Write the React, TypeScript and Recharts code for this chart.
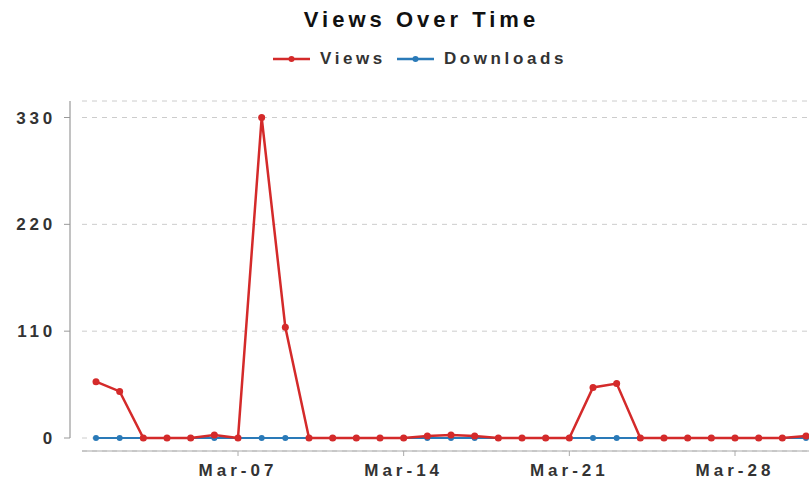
import { LineChart, Line, XAxis, YAxis, CartesianGrid, Legend, ReferenceLine } from 'recharts'

const dates = [
  'Mar-01', 'Mar-02', 'Mar-03', 'Mar-04', 'Mar-05', 'Mar-06', 'Mar-07', 'Mar-08',
  'Mar-09', 'Mar-10', 'Mar-11', 'Mar-12', 'Mar-13', 'Mar-14', 'Mar-15', 'Mar-16',
  'Mar-17', 'Mar-18', 'Mar-19', 'Mar-20', 'Mar-21', 'Mar-22', 'Mar-23', 'Mar-24',
  'Mar-25', 'Mar-26', 'Mar-27', 'Mar-28', 'Mar-29', 'Mar-30', 'Mar-31',
]
const views = [
  58, 48, 0, 0, 0, 3, 0, 330, 114, 0, 0, 0, 0, 0, 2, 3,
  2, 0, 0, 0, 0, 52, 56, 0, 0, 0, 0, 0, 0, 0, 2,
]
const downloads = [
  0, 0, 0, 0, 0, 0, 0, 0, 0, 0, 0, 0, 0, 0, 0, 0,
  0, 0, 0, 0, 0, 0, 0, 0, 0, 0, 0, 0, 0, 0, 0,
]
const xTicks = ['Mar-07', 'Mar-14', 'Mar-21', 'Mar-28']
const yTicks = [0, 110, 220, 330]
const yMax = 347

const RED = '#d42a2a'
const BLUE = '#2a7ab8'
const FONT = '"Liberation Sans", Arial, sans-serif'

const data = dates.map((date, i) => ({ date, Views: views[i], Downloads: downloads[i] }))

const legendOrder = [
  { name: 'Views', color: RED },
  { name: 'Downloads', color: BLUE },
]

function LegendContent() {
  return (
    <div style={{ display: 'flex', justifyContent: 'center', alignItems: 'center', height: 24, paddingLeft: 42 }}>
      {legendOrder.map(s => (
        <div key={s.name} style={{ display: 'flex', alignItems: 'center', marginRight: 11 }}>
          <svg width={37} height={10} style={{ marginRight: 10 }}>
            <line x1={0} y1={5} x2={37} y2={5} stroke={s.color} strokeWidth={2.5} />
            <circle cx={18.5} cy={5} r={3} fill={s.color} />
          </svg>
          <span style={{ fontFamily: FONT, fontWeight: 700, fontSize: 17, letterSpacing: 3.6, color: '#333' }}>
            {s.name}
          </span>
        </div>
      ))}
    </div>
  )
}

function YTick(props: any) {
  const { x, y, payload } = props
  return (
    <g>
      <line x1={x - 18} y1={y} x2={x - 12} y2={y} stroke="#999" strokeWidth={1} />
      <text
        x={x - 26}
        y={y}
        dy={6}
        textAnchor="end"
        fill="#333"
        style={{ fontFamily: FONT, fontWeight: 700, fontSize: 17, letterSpacing: 3.8 }}
      >
        {payload.value}
      </text>
    </g>
  )
}

function YAxisLine(props: any) {
  const { x1, y1, y2 } = props
  return <line x1={x1 - 26} y1={y1} x2={x1 - 26} y2={y2} stroke="#999" strokeWidth={1.2} />
}

export default function App() {
  return (
    <div style={{ position: 'absolute', left: 0, top: 0, width: 809, height: 483, background: '#fff' }}>
      <div
        style={{
          position: 'absolute',
          top: 7,
          left: 0,
          width: 809,
          textAlign: 'center',
          fontFamily: FONT,
          fontWeight: 700,
          fontSize: 22,
          lineHeight: '26px',
          letterSpacing: 4,
          color: '#111',
          paddingLeft: 34,
          boxSizing: 'border-box',
        }}
      >
        Views Over Time
      </div>
      <LineChart width={809} height={483} data={data} margin={{ top: 77, right: 0, bottom: 0, left: 0 }}>
        <CartesianGrid vertical={false} stroke="#ccc" strokeDasharray="5 5" />
        <Legend
          verticalAlign="top"
          content={<LegendContent />}
          wrapperStyle={{ top: 47, left: 0, width: 809, height: 24 }}
        />
        <XAxis
          dataKey="date"
          ticks={xTicks}
          interval={0}
          height={32}
          padding={{ left: 14, right: 3 }}
          axisLine={{ stroke: '#aaa', strokeWidth: 1.2 }}
          tickLine={{ stroke: '#aaa' }}
          tickSize={5}
          tickMargin={8}
          tick={{ fill: '#333', fontSize: 17, fontWeight: 700, fontFamily: FONT, letterSpacing: 4 }}
        />
        <YAxis
          width={82}
          domain={[0, yMax]}
          ticks={yTicks}
          padding={{ top: 0, bottom: 13 }}
          axisLine={false}
          tickLine={false}
          tickSize={0}
          tickMargin={0}
          tick={<YTick />}
        />
        <ReferenceLine
          segment={[{ x: dates[0], y: 0 }, { x: dates[0], y: yMax }]}
          ifOverflow="visible"
          shape={<YAxisLine />}
        />
        <Line
          type="linear"
          dataKey="Downloads"
          stroke={BLUE}
          strokeWidth={2}
          dot={{ r: 3, fill: BLUE, stroke: 'none' }}
          isAnimationActive={false}
        />
        <Line
          type="linear"
          dataKey="Views"
          stroke={RED}
          strokeWidth={2.5}
          dot={{ r: 3.5, fill: RED, stroke: 'none' }}
          isAnimationActive={false}
        />
      </LineChart>
    </div>
  )
}
